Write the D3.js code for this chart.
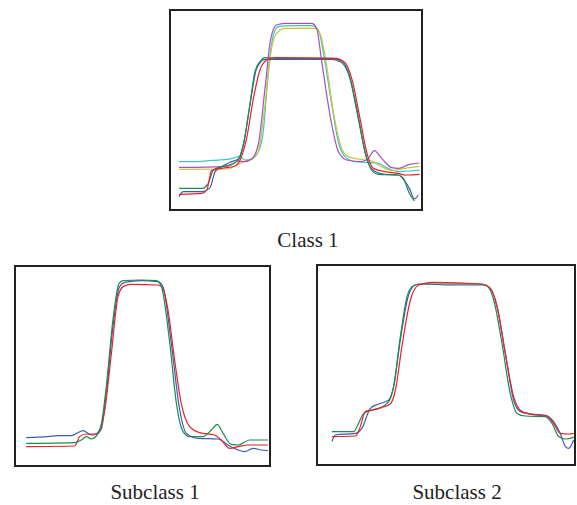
<!DOCTYPE html>
<html>
<head>
<meta charset="utf-8">
<script src="https://cdn.jsdelivr.net/npm/d3@7.9.0/dist/d3.min.js"></script>
<style>
  body { margin: 0; background: #fff; }
  svg { display: block; }
  .label { font-family: "Liberation Serif", "Times New Roman", serif; font-size: 21px; fill: #222; }
</style>
</head>
<body>
<svg id="chart" width="577" height="505"></svg>
<script>
// normalised profiles, x = position index (0-100), y = intensity (0-100)

// Class 1
const class1Cyan = [[3.6,24.2],[11.2,24.2],[16.5,24.8],[23.1,25.3],[26.5,26.5],[27.8,26.7],[29.8,25],[32.4,25.5],[35,29],[37,39],[39,69],[41,87.5],[43,91.7],[48.3,92.2],[56.2,92.2],[58.9,90],[60.8,79],[64.2,52.5],[66.8,34],[69.4,26.7],[73.4,24.2],[78.7,23.8],[82.7,23.3],[86.6,20.8],[90.6,19.2],[95,19.5],[99,19.8]];
const class1Magenta = [[3.6,21.3],[21.8,21.7],[24.5,22.8],[27.1,24.5],[29.8,24.2],[32.4,25.5],[35,32.5],[37.7,60.8],[40,85.8],[42.3,92.5],[45.6,93.3],[56.2,93.3],[58.2,90.8],[60.2,74.2],[64.2,42.5],[66.8,29.2],[70.1,25],[76,24.2],[78.7,25.8],[81.1,29.7],[84,25.8],[88,21.2],[90.6,20.8],[95,22.8],[99,23.5]];
const class1Yellow = [[3.6,20.3],[23.1,20.5],[26.5,22.5],[29.8,24.5],[32.4,25.5],[35,29.2],[37.7,52.5],[40.3,80.8],[42.3,88.3],[45.6,90.8],[57.5,90.8],[59.5,88.3],[61.5,77.5],[64.8,49.2],[68.1,30.8],[70.8,26.7],[74.7,25.5],[80,24.5],[84,21.7],[88,19.7],[91.9,20.5],[95,21.2],[99,21.8]];
const class1Green = [[3.6,10.8],[12.6,10.8],[15.2,13.3],[17.2,20],[20.5,21.7],[24.5,22.8],[27.1,25],[29.1,32.5],[31.7,52.5],[33.7,69.2],[35.7,74.2],[37.7,76.2],[41.7,75.8],[64.2,75.8],[68.1,74.5],[70.8,69.2],[74.1,50.8],[77.4,29.2],[80,20],[82.7,17.8],[90.6,17.5],[92.6,15.8],[95,8.3],[97,4.5]];
const class1Blue = [[3.6,6.7],[5.3,9.2],[12.6,9.2],[15.9,11.2],[17.9,19.2],[20.5,21.7],[24.5,24.2],[27.1,25.5],[29.1,32.5],[31.7,52.5],[34.4,70.8],[37.7,75.3],[64.2,75.3],[68.1,73.8],[71.4,65.8],[74.7,45.8],[78,25.8],[81.3,19.2],[85.3,17.8],[90.6,17.5],[93.3,14.2],[95,10.8],[97,5.5],[98.5,7.5]];
const class1Red = [[3.6,7.8],[12.6,8.3],[14.6,10],[16.5,19.7],[20.5,20.8],[25.8,22],[27.8,25],[30.4,35.8],[33.1,55.8],[35.7,70],[38.4,75],[41.7,76.2],[65.5,75.8],[69.4,73.8],[72.1,65.8],[75.4,45.8],[78,29.2],[80.7,20.8],[85.3,19.2],[90.6,18.3],[93.3,17.5],[95,17.5],[99,17.8]];

// Subclass 1
const sub1Blue = [[4.4,14.2],[12.9,14.7],[16.9,15.2],[22.1,15.2],[26.7,17.7],[29.3,16],[31.9,16],[33.9,18.8],[35.8,36.3],[38.4,69.7],[41,89.7],[43,91.8],[49.5,92.7],[56.1,92.2],[58,89.7],[61.3,61.3],[64.6,28],[67.2,16.3],[71.8,13.8],[79.6,13.5],[83.5,10.5],[87.5,8],[90.1,7.2],[93.3,8.8],[96.6,8],[99.2,7.7]];
const sub1Green = [[4.4,11.3],[23.4,11.7],[26,13],[28,14.7],[29.9,13.5],[31.9,15],[33.9,21.3],[35.8,39.7],[38.4,73],[40.8,91.3],[42.4,92.7],[49.5,93],[55.4,92.7],[57.4,89.7],[60.7,61.3],[63.3,31.3],[65.9,17.2],[68.5,14.7],[73.7,14.7],[77,18],[79.3,20.8],[81.6,16.3],[84.8,10.8],[87.5,10.5],[92,13],[99.2,13]];
const sub1Red = [[4.4,9.7],[23.4,10],[25.4,14.7],[28,16],[30.6,15.5],[33.2,18],[35.2,28],[37.8,56.3],[40.4,84.7],[42.4,89.7],[45.6,90.8],[56.1,90.5],[58,88.8],[60,78],[62.6,53],[65.2,31.3],[68.5,19.7],[72.4,16.7],[78.3,15.5],[80.9,13],[84.2,8.8],[87.5,9.7],[91.4,10.5],[99.2,10.5]];

// Subclass 2
const sub2Green = [[5.8,16.7],[14.2,16.7],[16.1,20.8],[18.1,25.8],[20.7,27.2],[23.9,28.3],[27.8,31.7],[29.7,39.2],[32.3,64.2],[34.9,84.2],[36.8,89.2],[39.4,90.5],[49.7,90.5],[62.7,90.5],[65.9,89.5],[68.5,82.5],[71.7,60.8],[74.9,35.8],[77.5,25.8],[80.7,24.5],[88.5,24.2],[91.1,20.8],[93.7,14.2],[96.3,13],[99.5,13.8]];
const sub2Blue = [[5.8,11.7],[7.1,15],[14.9,15.8],[17.4,18.3],[20.7,28.3],[23.9,30.5],[27.8,32.5],[29.7,39.2],[32.3,62.5],[35.5,85],[38.1,90],[40.7,90.5],[52.3,90],[64.6,90],[67.2,88.3],[69.8,79.2],[73,55.8],[76.2,32.5],[78.8,26.7],[83.3,25.5],[88.5,24.8],[91.7,21.7],[94.3,15.8],[96.3,9.2],[97.5,8.3],[99.5,12.5]];
const sub2Red = [[5.8,14.2],[14.9,14.5],[16.8,19.2],[18.7,26.7],[21.3,27.5],[25.2,28.8],[28.4,30.5],[30.4,37.5],[32.9,59.2],[36.2,82.5],[39.4,90],[44.6,91.3],[64,90.5],[67.2,88.3],[69.8,79.2],[73,55.8],[76.2,34.2],[79.5,26.7],[84.6,25],[89.1,24.5],[91.7,20.8],[94.3,15.8],[97.5,15.5],[99.5,15.8]];

const titles = ['Class 1', 'Subclass 1', 'Subclass 2'];

const colors = {
  red: '#e8212b', green: '#1f8a4c', blue: '#3d5cb0',
  cyan: '#3ec4c6', magenta: '#a553b8', yellow: '#c9c23e'
};

const panels = [
  { box: [170, 10, 252, 200], labelX: 308, labelY: 247, title: titles[0],
    series: [[class1Cyan, colors.cyan], [class1Yellow, colors.yellow], [class1Magenta, colors.magenta],
             [class1Blue, colors.blue], [class1Green, colors.green], [class1Red, colors.red]] },
  { box: [15, 266, 255, 200], labelX: 155, labelY: 499, title: titles[1],
    series: [[sub1Blue, colors.blue], [sub1Red, colors.red], [sub1Green, colors.green]] },
  { box: [317, 265, 258, 200], labelX: 457, labelY: 499, title: titles[2],
    series: [[sub2Blue, colors.blue], [sub2Green, colors.green], [sub2Red, colors.red]] }
];

const svg = d3.select('#chart');

panels.forEach((p) => {
  const [bx, by, bw, bh] = p.box;
  const x = d3.scaleLinear().domain([0, 100]).range([bx, bx + bw]);
  const y = d3.scaleLinear().domain([0, 100]).range([by + bh, by]);

  const line = d3.line()
    .x((d) => x(d[0]))
    .y((d) => y(d[1]))
    .curve(d3.curveMonotoneX);

  const g = svg.append('g');

  p.series.forEach(([data, color]) => {
    g.append('path')
      .attr('d', line(data))
      .attr('fill', 'none')
      .attr('stroke', color)
      .attr('stroke-width', 1.2);
  });

  g.append('rect')
    .attr('x', bx).attr('y', by)
    .attr('width', bw).attr('height', bh)
    .attr('fill', 'none')
    .attr('stroke', '#222')
    .attr('stroke-width', 2);

  svg.append('text')
    .attr('class', 'label')
    .attr('x', p.labelX)
    .attr('y', p.labelY)
    .attr('text-anchor', 'middle')
    .text(p.title);
});
</script>
</body>
</html>
